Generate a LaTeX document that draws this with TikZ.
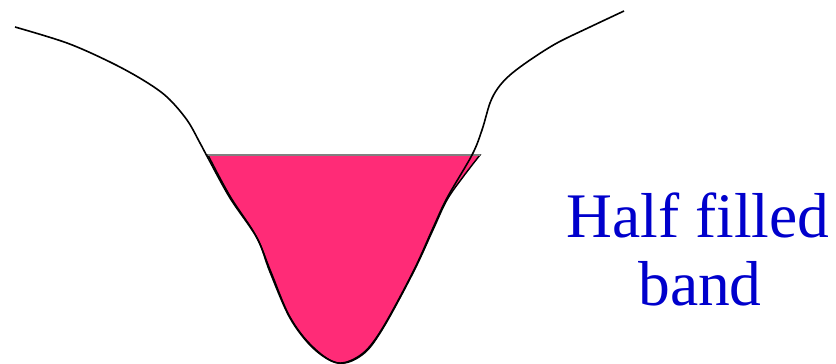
\documentclass[tikz,border=0pt]{standalone}
\usepackage{fontspec}
\setmainfont{Liberation Serif}
\usepackage{xcolor}
\usetikzlibrary{positioning}
\definecolor{bandpink}{RGB}{255,43,119}
\definecolor{labelblue}{RGB}{0,0,204}

\begin{document}
\begin{tikzpicture}[
  x=1pt, y=-1pt,
  band/.style={line width=1.6pt, black},
  filled/.style={fill=bandpink, draw=black, line width=1.4pt},
  lbl/.style={text=labelblue, align=center, font=\fontsize{63.5}{68}\selectfont, inner sep=0pt}
]
\useasboundingbox (0,0) rectangle (836,364);
% occupied part of the band
\filldraw[filled] (208,155) -- plot[smooth, tension=0.6] coordinates {(208,155) (230,196) (256,236) (271,272) (290,317) (313,347) (338,363) (362,355) (382,330) (413,273) (433,230) (447,200) (463,177) (480,155)} -- cycle;
\draw[gray, line width=1.4pt] (208,155) -- (480,155);
% density of states
\draw[band] plot[smooth, tension=0.55] coordinates {(15,27) (67,43) (110,62) (143,80) (167,97) (187,120) (200,143) (208,158) (230,198) (257,238) (270,272) (290,318) (313,348) (338,363) (362,354) (382,329) (413,272) (433,228) (447,198) (472,155) (482,130) (490,103) (498,88) (510,75) (530,60) (557,43) (590,27) (624,11)};
\node[lbl, anchor=base] (half) at (698,237) {Half filled};
\node[lbl, anchor=base] (bnd) at (700,305) {band};
\end{tikzpicture}
\end{document}
